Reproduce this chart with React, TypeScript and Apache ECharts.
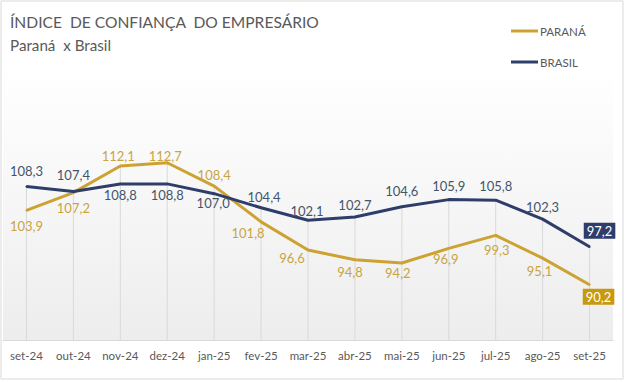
import React, { useEffect, useRef } from "react";
import * as echarts from "echarts";

const categories = ["set-24", "out-24", "nov-24", "dez-24", "jan-25", "fev-25", "mar-25", "abr-25", "mai-25", "jun-25", "jul-25", "ago-25", "set-25"];
const parana = [103.9, 107.2, 112.1, 112.7, 108.4, 101.8, 96.6, 94.8, 94.2, 96.9, 99.3, 95.1, 90.2];
const brasil = [108.3, 107.4, 108.8, 108.8, 107.0, 104.4, 102.1, 102.7, 104.6, 105.9, 105.8, 102.3, 97.2];

// label placement (layout only)
const prOffsets = [[0, 16], [0, 15], [-2, -10], [-2, -7], [0, -11], [-13, 11], [-16, 8], [-5, 12], [-4, 10], [-3, 11], [1, 15], [-3, 13], [9, 12]];
const brOffsets = [[0, -16], [0, -16], [0, 11], [0, 11], [-1, 9], [3, -11], [-1, -9], [0, -12], [0, -16], [0, -14], [0, -14], [0, -12], [10, -16]];

const Y_MIN = 80;
const Y_MAX = 130;
const GOLD = "#CCA232";
const GOLD_TEXT = "#C9A43F";
const GOLD_BOX = "#C8990E";
const NAVY = "#2F3D6B";
const NAVY_TEXT = "#44546A";
const FONT = "Lato, 'Noto Sans', sans-serif";

const fmt = (v: number) => v.toFixed(1).replace(".", ",");

export default function App() {
  const ref = useRef<HTMLDivElement>(null);
  useEffect(() => {
    if (!ref.current) return;
    const chart = echarts.init(ref.current, undefined, { renderer: "svg" });
    const last = categories.length - 1;
    const dropTop = categories.map((_, i) => Math.max(parana[i], brasil[i]));

    const mkData = (vals: number[], offs: number[][], textColor: string, boxColor: string) =>
      vals.map((v, i) => ({
        value: v,
        label: i === last
          ? {
              show: true,
              position: "inside",
              offset: offs[i],
              color: "#ffffff",
              backgroundColor: boxColor,
              padding: [2, 3, 1, 3],
              formatter: fmt(v),
            }
          : { show: true, position: "inside", offset: offs[i], color: textColor, formatter: fmt(v) },
      }));

    chart.setOption({
      animation: false,
      textStyle: { fontFamily: FONT },
      grid: {
        left: 3,
        right: 15,
        top: 69,
        bottom: 42,
        show: true,
        borderWidth: 0,
        backgroundColor: new echarts.graphic.LinearGradient(0, 0, 0, 1, [
          { offset: 0, color: "#ffffff" },
          { offset: 1, color: "#ededed" },
        ]),
      },
      graphic: [
        {
          type: "rect",
          shape: { x: 1, y: 1, width: 622, height: 378 },
          style: { fill: "none", stroke: "#d9d9d9", lineWidth: 1 },
          silent: true,
        },
        {
          type: "text",
          x: 10,
          y: 21.5,
          style: {
            text: "ÍNDICE  DE CONFIANÇA  DO EMPRESÁRIO",
            fill: "#595959",
            font: `15.6px ${FONT}`,
            verticalAlign: "middle",
          },
        },
        {
          type: "text",
          x: 10,
          y: 45,
          style: {
            text: "Paraná  x Brasil",
            fill: "#595959",
            font: `15.2px ${FONT}`,
            verticalAlign: "middle",
          },
        },
      ],
      legend: {
        orient: "vertical",
        left: 506,
        top: 20,
        itemWidth: 27,
        itemHeight: 3,
        itemGap: 19,
        icon: "rect",
        textStyle: { color: "#595959", fontSize: 11.5, fontFamily: FONT, padding: [0, 0, 0, -3] },
        data: ["PARANÁ", "BRASIL"],
      },
      xAxis: {
        type: "category",
        data: categories,
        boundaryGap: true,
        axisLine: { lineStyle: { color: "#d9d9d9" } },
        axisTick: { show: false },
        axisLabel: { color: "#595959", fontSize: 11.5, margin: 9, fontFamily: FONT, interval: 0 },
        splitLine: { show: false },
      },
      yAxis: {
        type: "value",
        min: Y_MIN,
        max: Y_MAX,
        show: false,
        splitLine: { show: false },
      },
      series: [
        {
          type: "custom",
          name: "drop",
          silent: true,
          z: 1,
          data: dropTop.map((v, i) => [i, v]),
          renderItem: (params: any, api: any) => {
            const top = api.coord([api.value(0), api.value(1)]);
            const bot = api.coord([api.value(0), Y_MIN]);
            return {
              type: "line",
              shape: { x1: top[0], y1: top[1], x2: bot[0], y2: bot[1] },
              style: { stroke: "#d9d9d9", lineWidth: 1 },
            };
          },
        },
        {
          type: "line",
          name: "PARANÁ",
          z: 3,
          data: mkData(parana, prOffsets, GOLD_TEXT, GOLD_BOX),
          symbol: "circle",
          symbolSize: 2,
          color: GOLD,
          lineStyle: { color: GOLD, width: 3 },
          itemStyle: { color: GOLD },
          label: { fontSize: 13, fontFamily: FONT },
        },
        {
          type: "line",
          name: "BRASIL",
          z: 4,
          data: mkData(brasil, brOffsets, NAVY_TEXT, NAVY),
          symbol: "circle",
          symbolSize: 2,
          color: NAVY,
          lineStyle: { color: NAVY, width: 3 },
          itemStyle: { color: NAVY },
          label: { fontSize: 13, fontFamily: FONT },
        },
      ],
    });
    return () => chart.dispose();
  }, []);
  return (
    <div
      ref={ref}
      style={{ position: "fixed", left: 0, top: 0, width: 628, height: 382, background: "#ffffff" }}
    />
  );
}
